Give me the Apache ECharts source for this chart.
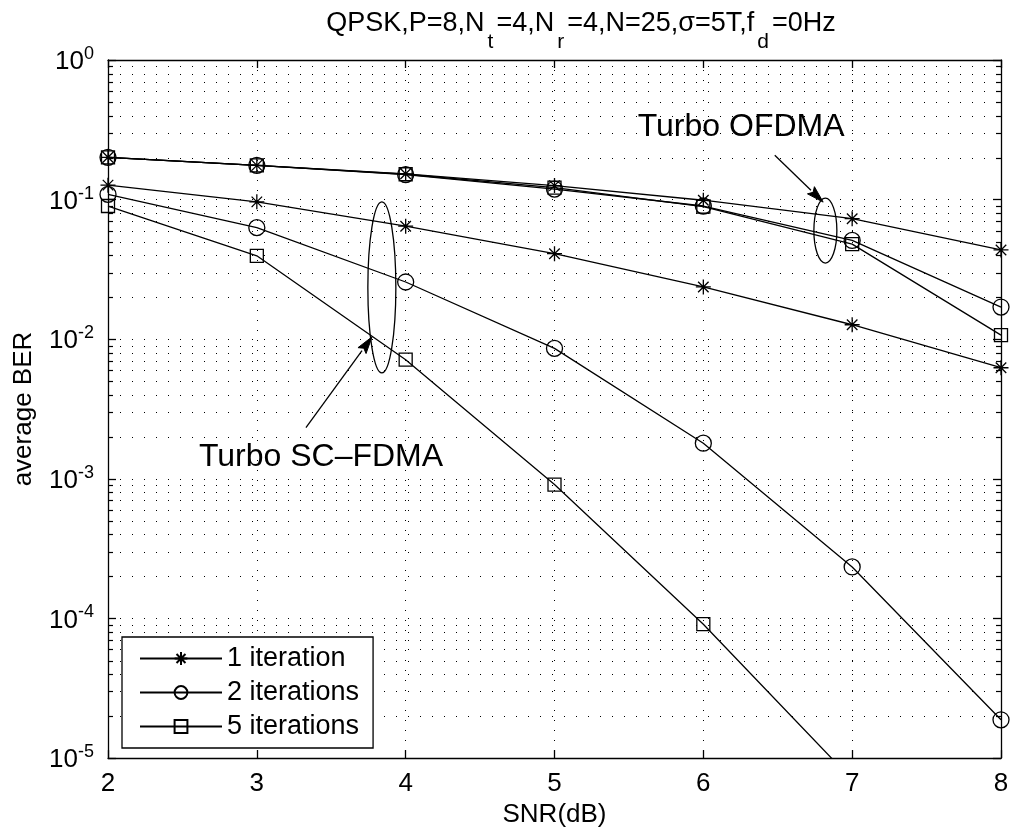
<!DOCTYPE html>
<html>
<head>
<meta charset="utf-8">
<script src="https://cdn.jsdelivr.net/npm/echarts@6/dist/echarts.min.js"></script>
<style>
  html, body { margin: 0; padding: 0; background: #fff; }
  #chart { width: 1017px; height: 833px; }
</style>
</head>
<body>
<div id="chart"></div>
<script>
// SNR points (dB)
const snr = [2, 3, 4, 5, 6, 7, 8];

// Turbo SC-FDMA average BER
const scOneIter  = [0.127, 0.0964, 0.0645, 0.041, 0.0237, 0.0127, 0.00625];
const scTwoIter  = [0.109, 0.063, 0.0257, 0.0086, 0.0018, 0.000234, 0.0000188];
const scFiveIter = [0.090, 0.0396, 0.00714, 0.00091, 0.000091, 0.000007];

// Turbo OFDMA average BER
const ofOneIter  = [0.201, 0.176, 0.153, 0.126, 0.099, 0.073, 0.0436];
const ofTwoIter  = [0.201, 0.176, 0.151, 0.119, 0.090, 0.051, 0.017];
const ofFiveIter = [0.201, 0.176, 0.152, 0.122, 0.089, 0.048, 0.0107];

const seriesNames = ['1 iteration', '2 iterations', '5 iterations'];

// log-axis structure: decades and the 2..9 minor steps inside each decade
const decadeExponents = [-5, -4, -3, -2, -1];
const minorSteps = [2, 3, 4, 5, 6, 7, 8, 9];

const FONT = '"Liberation Sans", Arial, Helvetica, sans-serif';
const INK = '#000';

const asteriskPath = 'path://M10,0L10,20M0,10L20,10M3,3L17,17M3,17L17,3';
const markers = [
  { symbol: asteriskPath, size: 15 },
  { symbol: 'circle', size: 16 },
  { symbol: 'rect', size: 13 }
];

function pairs(values) {
  return values.map((v, i) => [snr[i], v]);
}

function curve(name, values, markerIdx) {
  const m = markers[markerIdx];
  return {
    name: name,
    type: 'line',
    data: pairs(values),
    symbol: m.symbol,
    symbolSize: m.size,
    showAllSymbol: true,
    clip: true,
    z: 5,
    lineStyle: { color: INK, width: 1.3 },
    itemStyle: { color: 'rgba(255,255,255,0)', borderColor: INK, borderWidth: 1.3 },
    emphasis: { disabled: true },
    animation: false
  };
}

const minorValues = [];
decadeExponents.forEach(e => {
  minorSteps.forEach(s => minorValues.push([snr[0], s * Math.pow(10, e)]));
});

const chart = echarts.init(document.getElementById('chart'), null, { renderer: 'canvas' });

const dotted = [1, 11];

chart.setOption({
  backgroundColor: '#fff',
  animation: false,
  textStyle: { fontFamily: FONT, color: INK },
  title: {
    text: '{a|QPSK,P=8,N}{s|t}{a|=4,N}{s|r}{a|=4,N=25,σ=5T,f}{s|d}{a|=0Hz}',
    left: 576,
    textAlign: 'center',
    top: 5,
    textStyle: {
      fontWeight: 'normal',
      fontSize: 27,
      rich: {
        a: { fontFamily: FONT, fontSize: 27, fontWeight: 'normal', color: INK, lineHeight: 28, verticalAlign: 'top' },
        s: { fontFamily: FONT, fontSize: 21, fontWeight: 'normal', color: INK, lineHeight: 22, verticalAlign: 'top', padding: [22, 3, 0, 3] }
      }
    }
  },
  grid: { left: 108, right: 16, top: 60, bottom: 74, containLabel: false },
  legend: {
    data: seriesNames,
    left: 122,
    top: 637,
    orient: 'vertical',
    backgroundColor: '#fff',
    borderColor: INK,
    borderWidth: 1.3,
    borderRadius: 0,
    padding: [8, 14, 8, 17],
    itemWidth: 82,
    itemHeight: 16,
    itemGap: 7,
    selectedMode: false,
    textStyle: { fontFamily: FONT, fontSize: 27, color: INK, lineHeight: 26 }
  },
  xAxis: [
    {
      type: 'value', min: 2, max: 8, interval: 1,
      name: 'SNR(dB)', nameLocation: 'middle', nameGap: 42,
      nameTextStyle: { fontFamily: FONT, fontSize: 26, color: INK },
      axisLine: { show: true, lineStyle: { color: INK, width: 1.3 } },
      axisTick: { show: true, inside: true, length: 8, lineStyle: { color: INK, width: 1.3 } },
      axisLabel: { fontFamily: FONT, fontSize: 26, color: INK, margin: 13 },
      splitLine: { show: true, lineStyle: { color: INK, width: 1, type: [1, 9] } }
    },
    {
      type: 'value', min: 2, max: 8, interval: 1, position: 'top',
      axisLine: { show: true, lineStyle: { color: INK, width: 1.3 } },
      axisTick: { show: true, inside: true, length: 8, lineStyle: { color: INK, width: 1.3 } },
      axisLabel: { show: false },
      splitLine: { show: false }
    }
  ],
  yAxis: [
    {
      type: 'log', logBase: 10, min: 1e-5, max: 1,
      name: 'average BER', nameLocation: 'middle', nameGap: 71, nameRotate: 90,
      nameTextStyle: { fontFamily: FONT, fontSize: 26, color: INK },
      axisLine: { show: true, lineStyle: { color: INK, width: 1.3 } },
      axisTick: { show: true, inside: true, length: 8, lineStyle: { color: INK, width: 1.3 } },
      axisLabel: {
        margin: 14,
        formatter: v => '{b|10}{e|' + Math.round(Math.log10(v)) + '}',
        rich: {
          b: { fontFamily: FONT, fontSize: 26, color: INK, lineHeight: 30, verticalAlign: 'bottom', padding: [10, 0, 0, 0] },
          e: { fontFamily: FONT, fontSize: 18, color: INK, lineHeight: 30, verticalAlign: 'top', padding: [0, 0, 14, 0] }
        }
      },
      splitLine: { show: true, lineStyle: { color: INK, width: 1, type: dotted } }
    },
    {
      type: 'log', logBase: 10, min: 1e-5, max: 1, position: 'right',
      axisLine: { show: true, lineStyle: { color: INK, width: 1.3 } },
      axisTick: { show: true, inside: true, length: 8, lineStyle: { color: INK, width: 1.3 } },
      axisLabel: { show: false },
      splitLine: { show: false }
    }
  ],
  series: [
    // minor grid lines and minor ticks of the log axis
    {
      name: 'minor-grid',
      type: 'custom',
      silent: true,
      z: 1,
      data: minorValues,
      renderItem: function (params, api) {
        const v = api.value(1);
        const a = api.coord([snr[0], v]);
        const b = api.coord([snr[snr.length - 1], v]);
        const y = Math.round(a[1]) + 0.5;
        return {
          type: 'group',
          children: [
            { type: 'line', shape: { x1: a[0], y1: y, x2: b[0], y2: y },
              style: { stroke: INK, lineWidth: 1, lineDash: dotted } },
            { type: 'line', shape: { x1: a[0], y1: y, x2: a[0] + 5, y2: y },
              style: { stroke: INK, lineWidth: 1.2 } },
            { type: 'line', shape: { x1: b[0] - 5, y1: y, x2: b[0], y2: y },
              style: { stroke: INK, lineWidth: 1.2 } }
          ]
        };
      }
    },
    curve(seriesNames[0], scOneIter, 0),
    curve(seriesNames[1], scTwoIter, 1),
    curve(seriesNames[2], scFiveIter, 2),
    curve(seriesNames[0], ofOneIter, 0),
    curve(seriesNames[1], ofTwoIter, 1),
    curve(seriesNames[2], ofFiveIter, 2)
  ]
});

// annotation shapes, anchored in data space
function px(x, y) { return chart.convertToPixel({ gridIndex: 0 }, [x, y]); }

function arrow(from, to) {
  const p0 = px(from[0], from[1]);
  const p1 = px(to[0], to[1]);
  const dx = p1[0] - p0[0], dy = p1[1] - p0[1];
  const len = Math.sqrt(dx * dx + dy * dy);
  const ux = dx / len, uy = dy / len;
  const headLen = 17, halfW = 5;
  const bx = p1[0] - ux * headLen, by = p1[1] - uy * headLen;
  return [
    { type: 'line', z: 20, shape: { x1: p0[0], y1: p0[1], x2: bx, y2: by },
      style: { stroke: INK, lineWidth: 1.3 } },
    { type: 'polygon', z: 20,
      shape: { points: [[p1[0], p1[1]], [bx - uy * halfW, by + ux * halfW], [bx + ux * 3, by + uy * 3], [bx + uy * halfW, by - ux * halfW]] },
      style: { fill: INK, stroke: INK, lineWidth: 1 } }
  ];
}

function ellipse(cx, cy, rx, ry) {
  const c = px(cx, cy);
  return { type: 'ellipse', z: 20, shape: { cx: c[0], cy: c[1], rx: rx, ry: ry },
    style: { fill: null, stroke: INK, lineWidth: 1.3 } };
}

function label(text, x, y) {
  const c = px(x, y);
  return { type: 'text', z: 20, x: c[0], y: c[1],
    style: { text: text, fill: INK, font: '32px ' + FONT, align: 'center', verticalAlign: 'middle' } };
}

chart.setOption({
  graphic: [
    ellipse(6.82, 0.060, 11.5, 32.5),
    ellipse(3.84, 0.0235, 14, 85.5),
    ...arrow([6.48, 0.208], [6.805, 0.096]),
    ...arrow([3.33, 0.00233], [3.774, 0.0104]),
    label('Turbo OFDMA', 6.254, 0.33),
    label('Turbo SC\u2013FDMA', 3.431, 0.00142)
  ]
});
</script>
</body>
</html>
